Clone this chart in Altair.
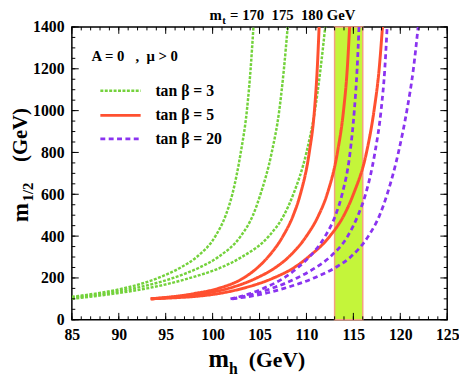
import altair as alt
import pandas as pd

W, H = 382, 298

# ---- data: m_h (GeV) and m_1/2 (GeV) along each curve ----
g1_x = [85, 87.5, 90.5, 94.2, 96.6, 98.3, 100.3, 101.4, 102.1, 103.0, 103.65, 104.05, 104.35]
g1_y = [110, 125, 150, 200, 250, 300, 400, 500, 600, 800, 1000, 1200, 1400]
g2_x = [85, 88.5, 91.6, 95.8, 98.6, 100.6, 103.0, 104.3, 105.1, 106.3, 107.1, 107.6, 108.0]
g2_y = [105, 125, 150, 200, 250, 300, 400, 500, 600, 800, 1000, 1200, 1400]
g3_x = [85, 89.5, 93.0, 97.6, 100.9, 103.1, 106.0, 107.6, 108.6, 110.0, 110.9, 111.5, 112.0]
g3_y = [100, 125, 150, 200, 250, 300, 400, 500, 600, 800, 1000, 1200, 1400]

r1_x = [93.4, 98.0, 100.6, 103.3, 104.8, 105.9, 107.5, 108.6, 109.35, 110.3, 110.85, 111.15, 111.35]
r1_y = [100, 125, 150, 200, 250, 300, 400, 500, 600, 800, 1000, 1200, 1400]
r2_x = [93.4, 96.3, 99.0, 101.7, 104.7, 106.7, 108.1, 110.0, 111.3, 112.2, 113.3, 113.95, 114.35, 114.6]
r2_y = [100, 110, 125, 150, 200, 250, 300, 400, 500, 600, 800, 1000, 1200, 1400]
r3_x = [93.4, 95.8, 97.7, 100.6, 103.2, 106.5, 108.7, 110.2, 112.5, 114.0, 115.0, 116.4, 117.2, 117.75, 118.1]
r3_y = [100, 105, 110, 125, 150, 200, 250, 300, 400, 500, 600, 800, 1000, 1200, 1400]

p1_x = [101.9, 104.0, 105.4, 107.6, 109.1, 110.3, 112.0, 113.1, 113.8, 114.65, 115.1, 115.4, 115.6]
p1_y = [100, 125, 150, 200, 250, 300, 400, 500, 600, 800, 1000, 1200, 1400]
p2_x = [102.1, 104.5, 106.3, 109.0, 111.0, 112.5, 114.4, 115.5, 116.3, 117.3, 117.95, 118.35, 118.6]
p2_y = [100, 125, 150, 200, 250, 300, 400, 500, 600, 800, 1000, 1200, 1400]
p3_x = [102.1, 105.5, 107.6, 110.8, 113.1, 114.7, 116.6, 117.8, 118.6, 119.8, 120.7, 121.4, 121.9]
p3_y = [100, 125, 150, 200, 250, 300, 400, 500, 600, 800, 1000, 1200, 1400]

band_lo, band_hi = 113, 116

series_names = ["tan β = 3", "tan β = 5", "tan β = 20"]
colors = ["#74d23c", "#ff5030", "#8a33f0"]

x_major = list(range(85, 126, 5))
x_minor = list(range(85, 126, 1))
y_major = list(range(0, 1401, 200))
y_minor = list(range(0, 1401, 50))

NB = "\u00a0"

# ---- build table ----
rows = []
curves = [
    ("g1", series_names[0], g1_x, g1_y), ("g2", series_names[0], g2_x, g2_y), ("g3", series_names[0], g3_x, g3_y),
    ("r1", series_names[1], r1_x, r1_y), ("r2", series_names[1], r2_x, r2_y), ("r3", series_names[1], r3_x, r3_y),
    ("p1", series_names[2], p1_x, p1_y), ("p2", series_names[2], p2_x, p2_y), ("p3", series_names[2], p3_x, p3_y),
]
for cid, s, xs_, ys_ in curves:
    for i, (a, b) in enumerate(zip(xs_, ys_)):
        rows.append({"curve": cid, "series": s, "mh": a, "m12": b, "o": i})
df = pd.DataFrame(rows)

xs = alt.Scale(domain=[85, 125], nice=False, zero=False)
ys = alt.Scale(domain=[0, 1400], nice=False, zero=False)
FONT = "Liberation Serif"

xaxis = alt.Axis(values=x_major, ticks=False, domain=False, grid=False, labelFont=FONT,
                 labelFontWeight="bold", labelFontSize=16, labelColor="black", labelPadding=7,
                 title=None, labelFlush=False, format="d")
yaxis = alt.Axis(values=y_major, ticks=False, domain=False, grid=False, labelFont=FONT,
                 labelFontWeight="bold", labelFontSize=16, labelColor="black", labelPadding=8,
                 title=None, format="d")

band = alt.Chart(pd.DataFrame({"a": [band_lo], "b": [band_hi]})).mark_rect(
    fill="#c4f53a", stroke="#f4a080", strokeWidth=1.5
).encode(x=alt.X("a:Q", scale=xs, axis=xaxis), x2="b:Q", y=alt.value(0), y2=alt.value(H))

def lines(name, dash, width):
    return alt.Chart(df[df.series == name]).mark_line(
        interpolate="monotone", strokeWidth=width, strokeDash=dash, clip=True,
        color=colors[series_names.index(name)]
    ).encode(
        x=alt.X("mh:Q", scale=xs), y=alt.Y("m12:Q", scale=ys, axis=yaxis),
        detail="curve:N", order="o:Q"
    )

dashes = [[3, 1.5], [1, 0], [5, 3.5]]
widths = [2.5, 3, 2.8]
l_g = lines(series_names[0], dashes[0], widths[0])
l_r = lines(series_names[1], dashes[1], widths[1])
l_p = lines(series_names[2], dashes[2], widths[2])

# ticks (inside, all four sides)
def xticks(vals, ln):
    d = pd.DataFrame({"v": vals})
    b = alt.Chart(d).mark_rule(color="black", strokeWidth=1).encode(
        x=alt.X("v:Q", scale=xs), y=alt.value(H), y2=alt.value(H - ln))
    t = alt.Chart(d).mark_rule(color="black", strokeWidth=1).encode(
        x=alt.X("v:Q", scale=xs), y=alt.value(0), y2=alt.value(ln))
    return b + t

def yticks(vals, ln):
    d = pd.DataFrame({"v": vals})
    l = alt.Chart(d).mark_rule(color="black", strokeWidth=1).encode(
        y=alt.Y("v:Q", scale=ys), x=alt.value(0), x2=alt.value(ln))
    r = alt.Chart(d).mark_rule(color="black", strokeWidth=1).encode(
        y=alt.Y("v:Q", scale=ys), x=alt.value(W), x2=alt.value(W - ln))
    return l + r

ticks = xticks(x_minor, 3.5) + xticks(x_major, 7) + yticks(y_minor, 3.5) + yticks(y_major, 7)

# legend
leg_y = [65, 90, 114]
leg = pd.DataFrame({"name": series_names, "yy": leg_y})
leg_lines = []
for i in range(3):
    leg_lines.append(alt.Chart(leg.iloc[[i]]).mark_rule(
        color=colors[i], strokeDash=dashes[i], strokeWidth=widths[i]
    ).encode(x=alt.value(29), x2=alt.value(70), y=alt.value(leg_y[i])))
leg_text = alt.Chart(leg).mark_text(
    font=FONT, fontWeight="bold", fontSize=16, align="left", baseline="middle", color="black"
).encode(x=alt.value(85), y=alt.Y("yy:Q", scale=None), text="name:N")

def label(txt, x, y, size, angle=0, align="left", baseline="alphabetic"):
    kw = dict(font=FONT, fontWeight="bold", fontSize=size, align=align, baseline=baseline, color="black")
    if angle:
        kw["angle"] = angle
    return alt.Chart(pd.DataFrame({"t": [txt]})).mark_text(**kw).encode(
        x=alt.value(x), y=alt.value(y), text="t:N")

texts = (
    label(f"A = 0{NB}{NB}{NB}, {NB}μ > 0", 20, 35, 15)
    + label("m", 140, -7, 15)
    + label("t", 153, -3, 11)
    + label(f"= 170{NB}{NB}175{NB}{NB}180 GeV", 161, -7, 15)
    + label("m", 139, 48 + H, 25)
    + label("h", 160, 55 + H, 16)
    + label("(GeV)", 180, 48 + H, 22)
    + label("m", -45, 189, 23, angle=270, align="center")
    + label("1/2", -40, 168, 15, angle=270, align="center")
    + label("(GeV)", -46, 110, 21, angle=270, align="center")
)

chart = alt.layer(
    band, l_g, l_r, l_p, ticks, *leg_lines, leg_text, texts
).properties(
    width=W, height=H,
    padding={"left": 65, "top": 16, "right": 12, "bottom": 58},
    autosize=alt.AutoSizeParams(type="none"),
).configure_view(stroke="black", strokeWidth=1.5)

chart.save("out.html", embed_options={"renderer": "svg", "actions": False})
